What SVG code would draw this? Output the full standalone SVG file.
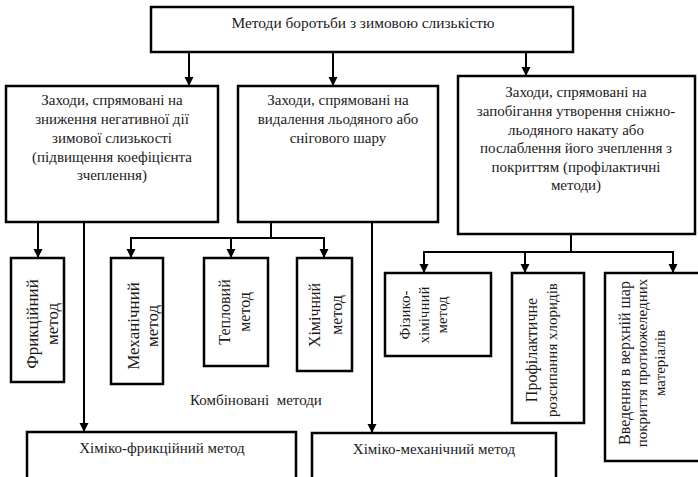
<svg xmlns="http://www.w3.org/2000/svg" width="698" height="477" viewBox="0 0 698 477">
<defs>
<style>
rect.n{fill:#fff;stroke:#000;stroke-width:2.5}
text{font-family:"Liberation Serif","Times New Roman",serif;font-size:15px;fill:#1a1a1a;text-anchor:middle}
text.big{font-size:17px}
text.mid{font-size:16px}
.c line{stroke:#000;stroke-width:2;fill:none}
</style>
<marker id="ah" markerUnits="userSpaceOnUse" markerWidth="10" markerHeight="10" refX="9" refY="5" orient="auto">
<path d="M0,0.5 L9,5 L0,9.5 z" fill="#000"/>
</marker>
</defs>
<rect width="698" height="477" fill="#fff"/>
<g class="c" id="connectors">
<line x1="189" y1="52" x2="189" y2="86" marker-end="url(#ah)"/>
<line x1="333" y1="52" x2="333" y2="86" marker-end="url(#ah)"/>
<line x1="526" y1="52" x2="526" y2="76" marker-end="url(#ah)"/>
<line x1="38" y1="222" x2="38" y2="258" marker-end="url(#ah)"/>
<line x1="84" y1="222" x2="84" y2="432" marker-end="url(#ah)"/>
<line x1="271" y1="222" x2="271" y2="238"/>
<line x1="131" y1="238" x2="324" y2="238"/>
<line x1="131" y1="237" x2="131" y2="258" marker-end="url(#ah)"/>
<line x1="231" y1="238" x2="231" y2="258" marker-end="url(#ah)"/>
<line x1="324" y1="237" x2="324" y2="258" marker-end="url(#ah)"/>
<line x1="372" y1="222" x2="372" y2="433" marker-end="url(#ah)"/>
<line x1="571" y1="234" x2="571" y2="252"/>
<line x1="424" y1="252" x2="673" y2="252"/>
<line x1="424" y1="251" x2="424" y2="273" marker-end="url(#ah)"/>
<line x1="525" y1="252" x2="525" y2="273" marker-end="url(#ah)"/>
<line x1="673" y1="251" x2="673" y2="273" marker-end="url(#ah)"/>
</g>
<g id="root">
<rect class="n" x="151" y="7" width="422" height="45"/>
<text x="363" y="28" style="font-size:15.4px">Методи боротьби з зимовою слизькістю</text>
</g>
<g id="reduce">
<rect class="n" x="6" y="86" width="212" height="136"/>
<text x="112" y="105">Заходи, спрямовані на</text>
<text x="112" y="124">зниження негативної дії</text>
<text x="112" y="143">зимової слизькості</text>
<text x="112" y="162">(підвищення коефіцієнта</text>
<text x="112" y="180">зчеплення)</text>
</g>
<g id="remove">
<rect class="n" x="238" y="86" width="200" height="136"/>
<text x="338" y="105">Заходи, спрямовані на</text>
<text x="338" y="124">видалення льодяного або</text>
<text x="338" y="143">снігового шару</text>
</g>
<g id="prevent">
<rect class="n" x="458" y="76" width="237" height="158"/>
<text x="576" y="97">Заходи, спрямовані на</text>
<text x="576" y="116">запобігання утворення сніжно-</text>
<text x="576" y="135">льодяного накату або</text>
<text x="576" y="153">послаблення його зчеплення з</text>
<text x="576" y="172">покриттям (профілактичні</text>
<text x="576" y="190">методи)</text>
</g>
<g id="friction">
<rect class="n" x="11" y="258" width="53" height="124"/>
<text class="big" transform="translate(38,324) rotate(-90)">Фрикційний</text>
<text class="big" transform="translate(58,324) rotate(-90)">метод</text>
</g>
<g id="mechanical">
<rect class="n" x="111" y="258" width="52" height="126"/>
<text class="big" transform="translate(139,326) rotate(-90)">Механічний</text>
<text class="big" transform="translate(158,326) rotate(-90)">метод</text>
</g>
<g id="thermal">
<rect class="n" x="204" y="258" width="64" height="108"/>
<text class="mid" transform="translate(230,312) rotate(-90)">Тепловий</text>
<text class="mid" transform="translate(250,312) rotate(-90)">метод</text>
</g>
<g id="chemical">
<rect class="n" x="297" y="258" width="55" height="113"/>
<text class="mid" transform="translate(320,315) rotate(-90)">Хімічний</text>
<text class="mid" transform="translate(342,315) rotate(-90)">метод</text>
</g>
<g id="physchem">
<rect class="n" x="385" y="273" width="106" height="83"/>
<text transform="translate(410,315) rotate(-90)">Фізико-</text>
<text transform="translate(429,315) rotate(-90)">хімічний</text>
<text transform="translate(447,315) rotate(-90)">метод</text>
</g>
<g id="chlorides">
<rect class="n" x="512" y="273" width="72" height="150"/>
<text class="mid" transform="translate(537,350) rotate(-90)">Профілактичне</text>
<text transform="translate(557,350) rotate(-90)">розсипання хлоридів</text>
</g>
<g id="antiicing">
<rect class="n" x="605" y="273" width="100" height="188"/>
<text class="mid" transform="translate(630,363) rotate(-90)">Введення в верхній шар</text>
<text transform="translate(647,363) rotate(-90)">покриття протиожеледних</text>
<text transform="translate(665,363) rotate(-90)">матеріалів</text>
</g>
<g id="combined">
<text x="256" y="405" style="white-space:pre">Комбіновані  методи</text>
</g>
<g id="chemfriction">
<rect class="n" x="27" y="432" width="269" height="60"/>
<text x="162" y="453">Хіміко-фрикційний метод</text>
</g>
<g id="chemmech">
<rect class="n" x="312" y="433" width="244" height="60"/>
<text x="434" y="454">Хіміко-механічний метод</text>
</g>
</svg>
